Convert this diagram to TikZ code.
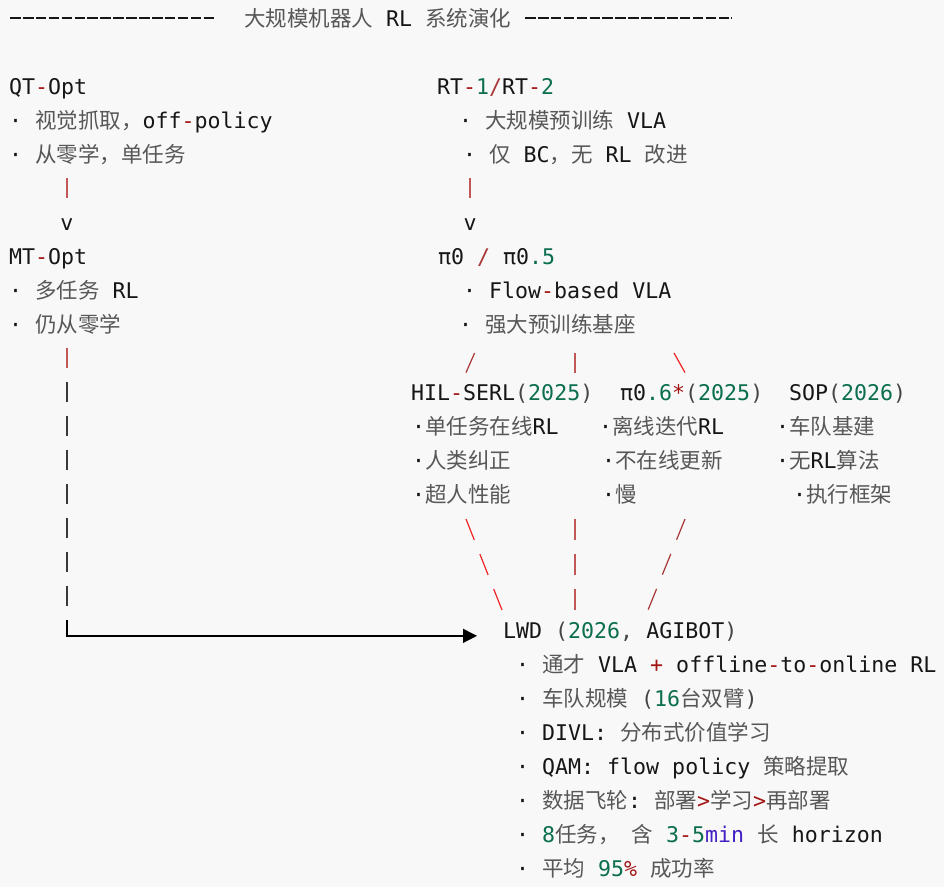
\documentclass[tikz,border=0pt]{standalone}
\usepackage{fontspec}
\setmonofont{DejaVu Sans Mono}
\newfontfamily\cjkfont{Noto Sans CJK SC}
\usetikzlibrary{arrows.meta}
\definecolor{bgcol}{HTML}{F8F8F8}
\definecolor{inkcol}{HTML}{161616}
\definecolor{zhgray}{HTML}{575757}
\definecolor{pgray}{HTML}{454545}
\definecolor{opred}{HTML}{A31515}
\definecolor{barred}{HTML}{C05858}
\definecolor{slashred}{HTML}{A83636}
\definecolor{bsred}{HTML}{F02424}
\definecolor{numgreen}{HTML}{0B6E4F}
\definecolor{minblue}{HTML}{4420C4}
\newcommand\zh[1]{{\cjkfont\fontsize{21.5}{26}\selectfont\color{zhgray}#1}}
\newcommand\opr[1]{\textcolor{opred}{#1}}
\newcommand\nm[1]{\textcolor{numgreen}{#1}}
\newcommand\pg[1]{\textcolor{pgray}{#1}}

\begin{document}
\begin{tikzpicture}[x=1pt,y=-1pt,
  txt/.style={anchor=base west,inner sep=0pt,text=inkcol,
    font=\ttfamily\fontsize{21.6}{26}\selectfont},
  tip/.style={txt,anchor=base},
  rulebar/.style={draw=inkcol,line width=1.5pt,dash pattern=on 10.6pt off 2.3pt},
  redbar/.style={draw=barred,line width=1.4pt},
  graybar/.style={draw=inkcol!85,line width=1.3pt,dash pattern=on 20pt off 14pt},
  fwd/.style={draw=slashred,line width=1.2pt},
  back/.style={draw=bsred,line width=1.2pt},
  arrowline/.style={draw=black,line width=1.3pt,-{Triangle[length=14pt,width=14pt]}}]
% listing of the RL system evolution
\fill[bgcol] (0,0) rectangle (944,887);

% header
\node[txt] (title) at (244,26) {\zh{大规模机器人} RL \zh{系统演化}};
\coordinate (ruleL) at (10,18);
\coordinate (ruleR) at (525,18);
\draw[rulebar] (ruleL) -- (ruleL -| 216,0);
\draw[rulebar] (ruleR) -- (ruleR -| 732,0);

% left column
\node[txt] (qtopt) at (9,94) {QT\opr{-}Opt};
\node[txt] (qtviz) at (9,128) {· \zh{视觉抓取，}off\opr{-}policy};
\node[txt] (qtscratch) at (9,162) {· \zh{从零学，单任务}};
\coordinate (qtbar) at (67,178);
\draw[redbar] (qtbar) -- ++(0,20);
\node[tip] (qtdown) at (67,230) {v};
\node[txt] (mtopt) at (9,264) {MT\opr{-}Opt};
\node[txt] (mtmulti) at (9,298) {· \zh{多任务} RL};
\node[txt] (mtscratch) at (9,332) {· \zh{仍从零学}};

% right column
\node[txt] (rtvla) at (437,94) {RT\opr{-}\nm{1}\textcolor{slashred}{/}RT\opr{-}\nm{2}};
\node[txt] (rtpre) at (459,128) {· \zh{大规模预训练} VLA};
\node[txt] (rtbc) at (463,162) {· \zh{仅} BC\zh{，无} RL \zh{改进}};
\coordinate (rtbar) at (470,178);
\draw[redbar] (rtbar) -- ++(0,20);
\node[tip] (rtdown) at (470,230) {v};
\node[txt] (pizero) at (438,264) {π0 \textcolor{slashred}{/} π0\nm{.5}};
\node[txt] (piflow) at (463,298) {· Flow\opr{-}based VLA};
\node[txt] (pibase) at (459,332) {· \zh{强大预训练基座}};

% three branches
\coordinate (brA) at (474.6,353);
\coordinate (brB) at (575,353);
\coordinate (brC) at (674,353);
\draw[fwd] (brA) -- ++(-8.6,19.6);
\draw[redbar] (brB) -- ++(0,20);
\draw[back] (brC) -- ++(11,19.6);

\node[txt] (hilserl) at (411,400) {HIL\opr{-}SERL\pg{(}\nm{2025}\pg{)}};
\node[txt] (hilonline) at (412,434) {·\zh{单任务在线}RL};
\node[txt] (hilhuman) at (412,468) {·\zh{人类纠正}};
\node[txt] (hilsuper) at (412,502) {·\zh{超人性能}};

\node[txt] (pisix) at (620,400) {π0\nm{.6}\opr{*}\pg{(}\nm{2025}\pg{)}};
\node[txt] (pioffline) at (599,434) {·\zh{离线迭代}RL};
\node[txt] (pinoonline) at (602,468) {·\zh{不在线更新}};
\node[txt] (pislow) at (602,502) {·\zh{慢}};

\node[txt] (sop) at (789,400) {SOP\pg{(}\nm{2026}\pg{)}};
\node[txt] (sopfleet) at (776,434) {·\zh{车队基建}};
\node[txt] (sopnorl) at (776,468) {·\zh{无}RL\zh{算法}};
\node[txt] (sopexec) at (793,502) {·\zh{执行框架}};

% merge into LWD
\coordinate (hilend) at (466,519);
\coordinate (sixend) at (575,519);
\coordinate (sopend) at (685,519);
\draw[back,dash pattern=on 22.4pt off 15.3pt] (hilend) -- ++(36,91);
\draw[redbar,dash pattern=on 20.5pt off 14.7pt] (sixend) -- ++(0,91);
\draw[fwd,dash pattern=on 22.4pt off 15.3pt] (sopend) -- ++(-37,91);

\node[txt] (lwd) at (503,638) {LWD \pg{(}\nm{2026}\pg{,} AGIBOT\pg{)}};
\node[txt] (lwdgen) at (516,672) {· \zh{通才} VLA \opr{+} offline\opr{-}to\opr{-}online RL};
\node[txt] (lwdfleet) at (516,706) {· \zh{车队规模} \pg{(}\nm{16}\zh{台双臂}\pg{)}};
\node[txt] (lwddivl) at (516,740) {· DIVL: \zh{分布式价值学习}};
\node[txt] (lwdqam) at (516,774) {· QAM: flow policy \zh{策略提取}};
\node[txt] (lwdwheel) at (516,808) {· \zh{数据飞轮}: \zh{部署}\opr{>}\zh{学习}\opr{>}\zh{再部署}};
\node[txt] (lwdtask) at (516,842) {· \nm{8}\zh{任务，}\hspace{12pt}\zh{含} \nm{3}\opr{-}\nm{5}\textcolor{minblue}{min} \zh{长} horizon};
\node[txt] (lwdrate) at (516,876) {· \zh{平均} \nm{95}\opr{\%} \zh{成功率}};

% long path from MT-Opt
\coordinate (mtbar) at (67,348);
\coordinate (mtdash) at (67,382);
\coordinate (mtturn) at (67,620);
\draw[redbar] (mtbar) -- ++(0,20);
\draw[graybar] (mtdash) -- (mtturn);
\draw[arrowline] (mtturn) |- ([xshift=-26pt]lwd.mid west);
\end{tikzpicture}
\end{document}
